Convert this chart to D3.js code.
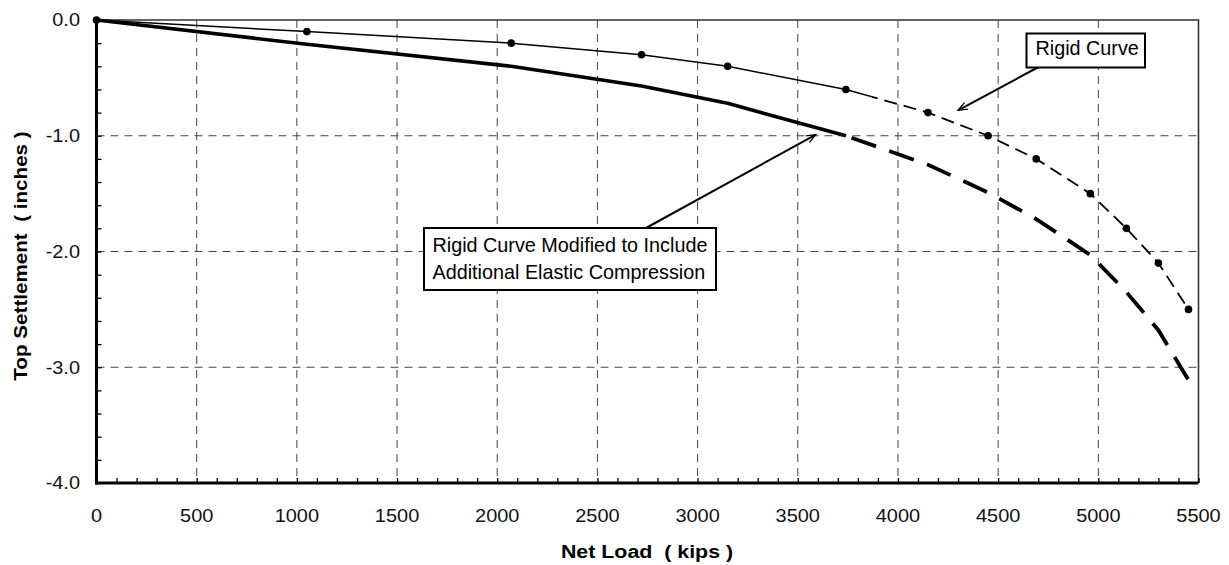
<!DOCTYPE html>
<html>
<head>
<meta charset="utf-8">
<script src="https://cdn.jsdelivr.net/npm/d3@7"></script>
<style>
  html, body { margin: 0; padding: 0; background: #fff; }
  svg { display: block; font-family: "Liberation Sans", Arial, sans-serif; }
  text { white-space: pre; }
</style>
</head>
<body>
<svg id="chart" width="1229" height="565"></svg>
<script>
// Load steps (kips) shared by both curves
const loads = [0, 1050, 2070, 2720, 3150, 3740, 4150, 4450, 4690, 4960, 5140, 5300, 5450];
// Rigid pile top settlement (inches)
const rigidSettlement = [0, -0.1, -0.2, -0.3, -0.4, -0.6, -0.8, -1.0, -1.2, -1.5, -1.8, -2.1, -2.5];
// Rigid curve plus additional elastic compression (inches)
const modifiedSettlement = [0, -0.21, -0.40, -0.57, -0.72, -1.0, -1.25, -1.49, -1.72, -2.03, -2.35, -2.68, -3.11];
// Load where the rigid curve turns from solid to dashed
const rigidSolidEnd = 3870;
// Index where the modified curve turns from solid to dashed
const modifiedSolidEndIndex = 5;

const xTickValues = [0, 500, 1000, 1500, 2000, 2500, 3000, 3500, 4000, 4500, 5000, 5500];
const yTickValues = [0, -1, -2, -3, -4];
const yTickLabels = ["0.0", "-1.0", "-2.0", "-3.0", "-4.0"];
const xTitle = "Net Load  ( kips )";
const yTitle = "Top Settlement  ( inches )";
const rigidNote = ["Rigid Curve"];
const modifiedNote = ["Rigid Curve Modified to Include", "Additional Elastic Compression"];
// Points the callout arrows aim at (load, settlement)
const rigidArrowTip = [4300, -0.78];
const modifiedArrowTip = [3590, -0.99];

const svg = d3.select("#chart");
const x = d3.scaleLinear().domain([0, 5500]).range([96.5, 1198.5]);
const y = d3.scaleLinear().domain([0, -4]).range([20, 483]);

const labelStretch = 1.14;

function stretchedText(parent, px, py, str, opts) {
  const g = parent.append("g")
    .attr("transform", `translate(${px},${py}) rotate(${opts.rotate || 0}) scale(${opts.sx || 1},1)`);
  g.append("text")
    .attr("text-anchor", opts.anchor || "start")
    .attr("font-size", opts.size)
    .attr("font-weight", opts.weight || "normal")
    .attr("fill", opts.fill || "#000")
    .text(str);
  return g;
}

// Dashed grid
const grid = svg.append("g")
  .attr("stroke", "#444")
  .attr("stroke-width", 1)
  .attr("stroke-dasharray", "8,6");
grid.selectAll("line.v")
  .data(xTickValues.filter(v => v > 0 && v < 5500))
  .join("line").attr("class", "v")
  .attr("x1", d => x(d)).attr("x2", d => x(d))
  .attr("y1", y(0)).attr("y2", y(-4));
grid.selectAll("line.h")
  .data(yTickValues.filter(v => v < 0 && v > -4))
  .join("line").attr("class", "h")
  .attr("x1", x(0)).attr("x2", x(5500))
  .attr("y1", d => y(d)).attr("y2", d => y(d));

// Top and right frame
svg.append("path")
  .attr("d", `M${x(0)},${y(0)}H${x(5500)}V${y(-4)}`)
  .attr("fill", "none")
  .attr("stroke", "#333")
  .attr("stroke-width", 1.6);

// Axes with inward minor ticks
const xAxis = svg.append("g")
  .attr("transform", `translate(0,${y(-4)})`)
  .call(d3.axisBottom(x).tickValues(d3.range(0, 5501, 100)).tickSize(-5).tickSizeOuter(0).tickFormat(""));
const yAxis = svg.append("g")
  .attr("transform", `translate(${x(0)},0)`)
  .call(d3.axisLeft(y).tickValues(d3.range(0, -4.001, -0.2)).tickSize(-5).tickSizeOuter(0).tickFormat(""));
[xAxis, yAxis].forEach(a => {
  a.select(".domain").attr("stroke", "#000").attr("stroke-width", 3);
  a.selectAll(".tick line").attr("stroke", "#000").attr("stroke-width", 1.3);
});
yAxis.select(".domain").attr("d", `M0,${y(0) - 1}V${y(-4) + 1.5}`);
xAxis.select(".domain").attr("d", `M${x(0) - 1.5},0H${x(5500)}`);

// Tick labels
const labels = svg.append("g");
xTickValues.forEach(v => {
  stretchedText(labels, x(v), 521.5, String(v), { anchor: "middle", size: 17.5, sx: labelStretch, fill: "#111" });
});
yTickValues.forEach((v, i) => {
  stretchedText(labels, 80, y(v) + 6.3, yTickLabels[i], { anchor: "end", size: 17.5, sx: labelStretch, fill: "#111" });
});

// Axis titles
stretchedText(svg, 647, 558, xTitle, { anchor: "middle", size: 18.6, weight: "bold", sx: 1.15 });
stretchedText(svg, 26.5, 256, yTitle, { anchor: "middle", size: 18.6, weight: "bold", sx: 1.11, rotate: -90 });

// Curves
const line = d3.line().x(d => x(d[0])).y(d => y(d[1]));
const rigidPts = loads.map((l, i) => [l, rigidSettlement[i]]);
const modPts = loads.map((l, i) => [l, modifiedSettlement[i]]);

const defs = svg.append("defs");
defs.append("clipPath").attr("id", "clip-solid")
  .append("rect").attr("x", 0).attr("y", 0).attr("width", x(rigidSolidEnd)).attr("height", 565);
defs.append("clipPath").attr("id", "clip-dash")
  .append("rect").attr("x", x(rigidSolidEnd)).attr("y", 0).attr("width", 1229).attr("height", 565);

const curves = svg.append("g").attr("fill", "none").attr("stroke", "#000");

curves.append("path")
  .attr("d", line(modPts.slice(0, modifiedSolidEndIndex + 1)))
  .attr("stroke-width", 3.6)
  .attr("stroke-linejoin", "round");
curves.append("path")
  .attr("d", line(modPts.slice(modifiedSolidEndIndex)))
  .attr("stroke-width", 3.8)
  .attr("stroke-dasharray", "26,14")
  .attr("stroke-dashoffset", -6);

curves.append("path")
  .attr("d", line(rigidPts))
  .attr("clip-path", "url(#clip-solid)")
  .attr("stroke-width", 1.5);
curves.append("path")
  .attr("d", line(rigidPts.slice(5)))
  .attr("clip-path", "url(#clip-dash)")
  .attr("stroke-width", 1.8)
  .attr("stroke-dasharray", "13,7");

svg.append("g").selectAll("circle")
  .data(rigidPts)
  .join("circle")
  .attr("cx", d => x(d[0]))
  .attr("cy", d => y(d[1]))
  .attr("r", 3.8)
  .attr("fill", "#000");

// Callouts
function arrow(x1, y1, tip) {
  const x2 = x(tip[0]), y2 = y(tip[1]);
  const a = Math.atan2(y2 - y1, x2 - x1);
  const L = 10, th = 0.38;
  svg.append("line")
    .attr("x1", x1).attr("y1", y1).attr("x2", x2).attr("y2", y2)
    .attr("stroke", "#000").attr("stroke-width", 2);
  svg.append("path")
    .attr("d", `M${x2 - L * Math.cos(a - th)},${y2 - L * Math.sin(a - th)}L${x2},${y2}L${x2 - L * Math.cos(a + th)},${y2 - L * Math.sin(a + th)}`)
    .attr("fill", "none").attr("stroke", "#000").attr("stroke-width", 1.3);
}
function noteBox(bx, by, bw, bh, lines, tx, baselines) {
  svg.append("rect")
    .attr("x", bx).attr("y", by).attr("width", bw).attr("height", bh)
    .attr("fill", "#fff").attr("stroke", "#000").attr("stroke-width", 2);
  lines.forEach((t, i) => stretchedText(svg, tx, baselines[i], t, { size: 19.8, sx: 1.0 }));
}

arrow(1038.5, 67, rigidArrowTip);
noteBox(1026.5, 33.5, 118.5, 34, rigidNote, 1035.5, [54.5]);

arrow(646, 228, modifiedArrowTip);
noteBox(424, 228, 292, 62, modifiedNote, 432.5, [252, 278.5]);
</script>
</body>
</html>
